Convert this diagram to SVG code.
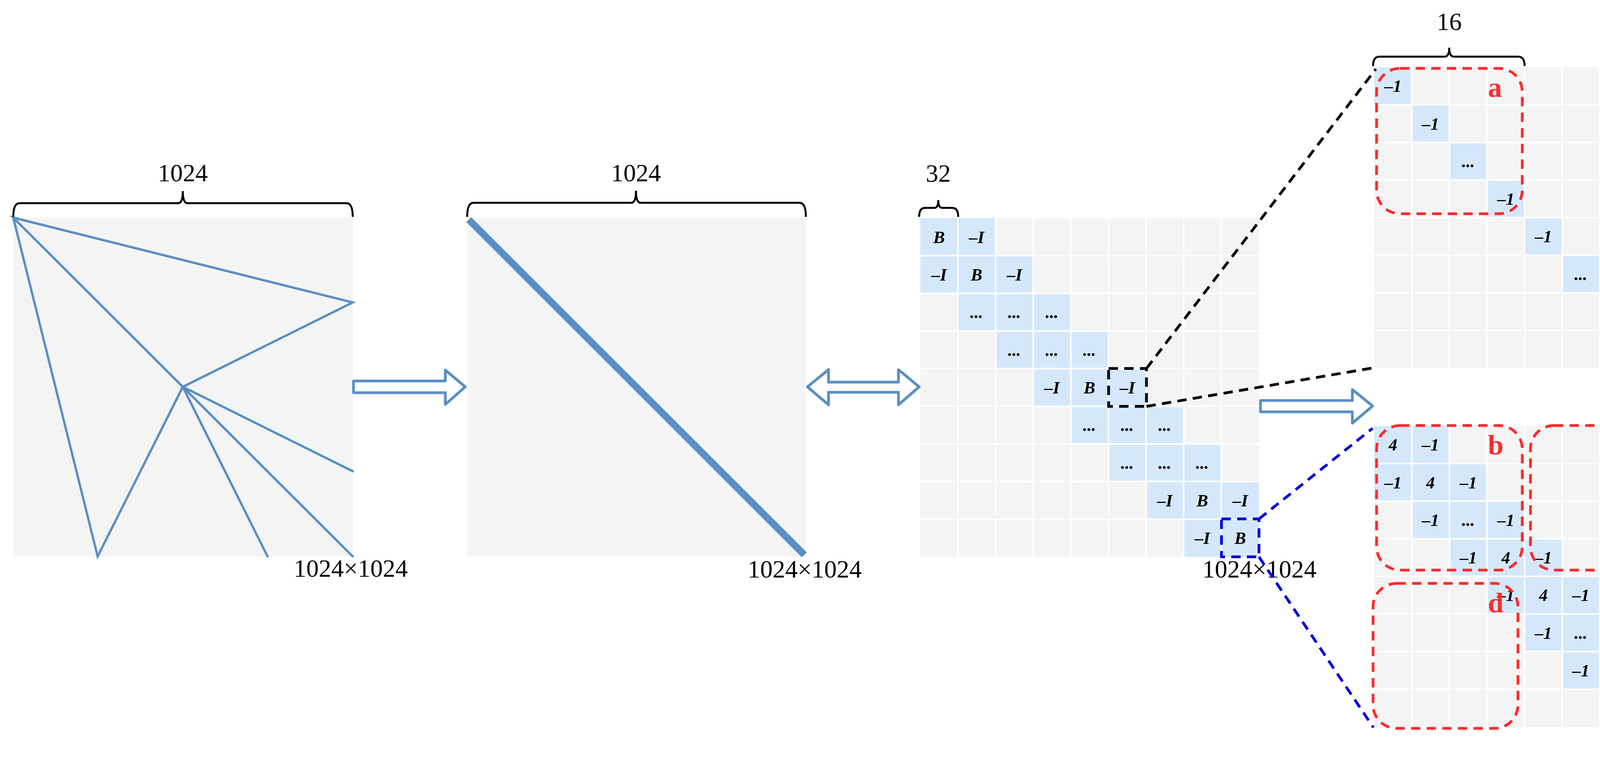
<svg xmlns="http://www.w3.org/2000/svg" width="4397" height="1945" viewBox="0 0 4397 1945">
<style>
.bg{fill:#f4f4f4}
.hl{fill:#d5e8fb}
.grid{stroke:#ffffff;stroke-width:4;fill:none}
.blue{stroke:#5a8fc5;stroke-width:6;fill:none;stroke-linecap:round}
.harrow{stroke:#5a8fc5;stroke-width:7;fill:#ffffff;stroke-linejoin:round}
.brace{stroke:#000;stroke-width:5;fill:none}
.lbl{font-family:"Liberation Serif",serif;font-size:64px;fill:#000}
.cell{font-family:"Liberation Serif",serif;font-size:44px;font-weight:bold;font-style:italic;fill:#000;text-anchor:middle}
.red{stroke:#ff2a2a;stroke-width:7;fill:none;stroke-dasharray:24 16}
.rl{font-family:"Liberation Serif",serif;font-size:72px;font-weight:bold;fill:#ff2a2a;text-anchor:middle}
.bd{stroke:#000;stroke-width:7;fill:none;stroke-dasharray:24 16}
.bld{stroke:#0000e0;stroke-width:7;fill:none;stroke-dasharray:24 16}
</style>

<g id="panel1">
<rect class="bg" x="34" y="557" width="869" height="867"/>
<path class="blue" d="M34,557 L903,774 L468,990 Z M34,557 L250,1424 L468,990 L903,1206 M468,990 L685,1424 M468,990 L903,1424"/>
<path class="brace" d="M34,555 Q34,520 50,520 H456 Q468,520 468,489 Q468,520 480,520 H887 Q903,520 903,555"/>
<text class="lbl" x="468" y="464" text-anchor="middle">1024</text>
<text class="lbl" x="752" y="1476">1024×1024</text>
</g>

<g id="panel2">
<rect class="bg" x="1196" y="558" width="867" height="866"/>
<line x1="1200" y1="562" x2="2059" y2="1420" stroke="#5a8fc5" stroke-width="18"/>
<path class="brace" d="M1196,555 Q1196,519 1212,519 H1616 Q1628,519 1628,488 Q1628,519 1640,519 H2047 Q2063,519 2063,555"/>
<text class="lbl" x="1628" y="464" text-anchor="middle">1024</text>
<text class="lbl" x="1914" y="1478">1024×1024</text>
</g>

<g id="panel3">
<g transform="translate(2356,558)">
<rect class="bg" x="0" y="0" width="867" height="867"/>
<rect class="hl" x="0" y="0" width="192.7" height="96.3"/>
<rect class="hl" x="0" y="96.3" width="289" height="96.4"/>
<rect class="hl" x="96.3" y="192.7" width="289" height="96.3"/>
<rect class="hl" x="192.7" y="289" width="289" height="96.3"/>
<rect class="hl" x="289" y="385.3" width="289" height="96.4"/>
<rect class="hl" x="385.3" y="481.7" width="289" height="96.3"/>
<rect class="hl" x="481.7" y="578" width="289" height="96.3"/>
<rect class="hl" x="578" y="674.3" width="289" height="96.4"/>
<rect class="hl" x="674.3" y="770.7" width="192.7" height="96.3"/>
<path class="grid" d="M96.3,0V867 M192.7,0V867 M289,0V867 M385.3,0V867 M481.7,0V867 M578,0V867 M674.3,0V867 M770.7,0V867 M0,96.3H867 M0,192.7H867 M0,289H867 M0,385.3H867 M0,481.7H867 M0,578H867 M0,674.3H867 M0,770.7H867"/>
<text class="cell" x="48" y="64">B</text><text class="cell" x="144" y="64">–I</text>
<text class="cell" x="48" y="160">–I</text><text class="cell" x="144" y="160">B</text><text class="cell" x="241" y="160">–I</text>
<text class="cell" x="144" y="256">...</text><text class="cell" x="241" y="256">...</text><text class="cell" x="337" y="256">...</text>
<text class="cell" x="241" y="353">...</text><text class="cell" x="337" y="353">...</text><text class="cell" x="433" y="353">...</text>
<text class="cell" x="337" y="449">–I</text><text class="cell" x="433" y="449">B</text><text class="cell" x="530" y="449">–I</text>
<text class="cell" x="433" y="545">...</text><text class="cell" x="530" y="545">...</text><text class="cell" x="626" y="545">...</text>
<text class="cell" x="530" y="642">...</text><text class="cell" x="626" y="642">...</text><text class="cell" x="722" y="642">...</text>
<text class="cell" x="626" y="738">–I</text><text class="cell" x="722" y="738">B</text><text class="cell" x="819" y="738">–I</text>
<text class="cell" x="722" y="834">–I</text><text class="cell" x="819" y="834">B</text>
</g>
<path class="brace" d="M2353,555 Q2353,532 2368,532 H2392 Q2402,532 2402,512 Q2402,532 2412,532 H2438 Q2453,532 2453,555"/>
<text class="lbl" x="2402" y="465" text-anchor="middle">32</text>
<text class="lbl" x="3078" y="1478">1024×1024</text>
<rect class="bd" x="2838" y="943" width="97" height="97"/>
<rect class="bld" x="3127" y="1328" width="96" height="97"/>
</g>

<g id="matrixA">
<g transform="translate(3518,172)">
<rect class="bg" x="0" y="0" width="770" height="770"/>
<rect class="hl" x="0" y="0" width="96.25" height="96.25"/>
<rect class="hl" x="96.25" y="96.25" width="96.25" height="96.25"/>
<rect class="hl" x="192.5" y="192.5" width="96.25" height="96.25"/>
<rect class="hl" x="288.75" y="288.75" width="96.25" height="96.25"/>
<rect class="hl" x="385" y="385" width="96.25" height="96.25"/>
<rect class="hl" x="481.25" y="481.25" width="96.25" height="96.25"/>
<rect class="hl" x="577.5" y="577.5" width="96.25" height="96.25"/>
<rect class="hl" x="673.75" y="673.75" width="96.25" height="96.25"/>
<path class="grid" d="M96.25,0V770 M192.5,0V770 M288.75,0V770 M385,0V770 M481.25,0V770 M577.5,0V770 M673.75,0V770 M0,96.25H770 M0,192.5H770 M0,288.75H770 M0,385H770 M0,481.25H770 M0,577.5H770 M0,673.75H770"/>
<text class="cell" x="48" y="63">–1</text>
<text class="cell" x="144" y="160">–1</text>
<text class="cell" x="241" y="256">...</text>
<text class="cell" x="337" y="352">–1</text>
<text class="cell" x="433" y="448">–1</text>
<text class="cell" x="529" y="545">...</text>
<text class="cell" x="626" y="641">–1</text>
<text class="cell" x="722" y="737">–1</text>
</g>
<path class="brace" d="M3515,169 Q3515,145 3531,145 H3698 Q3710,145 3710,122 Q3710,145 3722,145 H3887 Q3903,145 3903,169"/>
<text class="lbl" x="3710" y="77" text-anchor="middle">16</text>
<rect class="red" x="3524" y="175" width="373" height="372" rx="60"/>
<text class="rl" x="3827" y="248">a</text>
<text class="lbl" x="4205" y="995">32×32</text>
</g>

<g id="matrixB">
<g transform="translate(3518,1090)">
<rect class="bg" x="0" y="0" width="770" height="770"/>
<rect class="hl" x="0" y="0" width="192.5" height="96.25"/>
<rect class="hl" x="0" y="96.25" width="288.75" height="96.25"/>
<rect class="hl" x="96.25" y="192.5" width="288.75" height="96.25"/>
<rect class="hl" x="192.5" y="288.75" width="288.75" height="96.25"/>
<rect class="hl" x="288.75" y="385" width="288.75" height="96.25"/>
<rect class="hl" x="385" y="481.25" width="288.75" height="96.25"/>
<rect class="hl" x="481.25" y="577.5" width="288.75" height="96.25"/>
<rect class="hl" x="577.5" y="673.75" width="192.5" height="96.25"/>
<path class="grid" d="M96.25,0V770 M192.5,0V770 M288.75,0V770 M385,0V770 M481.25,0V770 M577.5,0V770 M673.75,0V770 M0,96.25H770 M0,192.5H770 M0,288.75H770 M0,385H770 M0,481.25H770 M0,577.5H770 M0,673.75H770"/>
<text class="cell" x="48" y="63">4</text><text class="cell" x="144" y="63">–1</text>
<text class="cell" x="48" y="160">–1</text><text class="cell" x="144" y="160">4</text><text class="cell" x="241" y="160">–1</text>
<text class="cell" x="144" y="256">–1</text><text class="cell" x="241" y="256">...</text><text class="cell" x="337" y="256">–1</text>
<text class="cell" x="241" y="352">–1</text><text class="cell" x="337" y="352">4</text><text class="cell" x="433" y="352">–1</text>
<text class="cell" x="337" y="448">–1</text><text class="cell" x="433" y="448">4</text><text class="cell" x="529" y="448">–1</text>
<text class="cell" x="433" y="545">–1</text><text class="cell" x="529" y="545">...</text><text class="cell" x="626" y="545">–1</text>
<text class="cell" x="529" y="641">–1</text><text class="cell" x="626" y="641">4</text><text class="cell" x="722" y="641">–1</text>
<text class="cell" x="626" y="737">–1</text><text class="cell" x="722" y="737">4</text>
</g>
<rect class="red" x="3524" y="1089" width="373" height="370" rx="60"/>
<text class="rl" x="3829" y="1163">b</text>
<rect class="red" x="3918" y="1089" width="373" height="370" rx="60"/>
<text class="rl" x="4217" y="1163">c</text>
<rect class="red" x="3515" y="1493" width="371" height="371" rx="60"/>
<text class="rl" x="3829" y="1567">d</text>
<text class="lbl" x="4205" y="1917">32×32</text>
</g>

<g id="connectors">
<polygon class="harrow" points="905,975 1140,975 1140,947 1191,990 1140,1035 1140,1005 905,1005"/>
<polygon class="harrow" points="2067,990 2121,946 2121,978 2300,978 2300,946 2353,990 2300,1036 2300,1004 2121,1004 2121,1036"/>
<polygon class="harrow" points="3227,1025 3462,1025 3462,997 3514,1039 3462,1083 3462,1054 3227,1054"/>
<line class="bd" x1="2935" y1="943" x2="3522" y2="177"/>
<line class="bd" x1="2935" y1="1040" x2="3518" y2="941"/>
<line class="bld" x1="3223" y1="1328" x2="3514" y2="1096"/>
<line class="bld" x1="3223" y1="1425" x2="3516" y2="1862"/>
</g>
</svg>
